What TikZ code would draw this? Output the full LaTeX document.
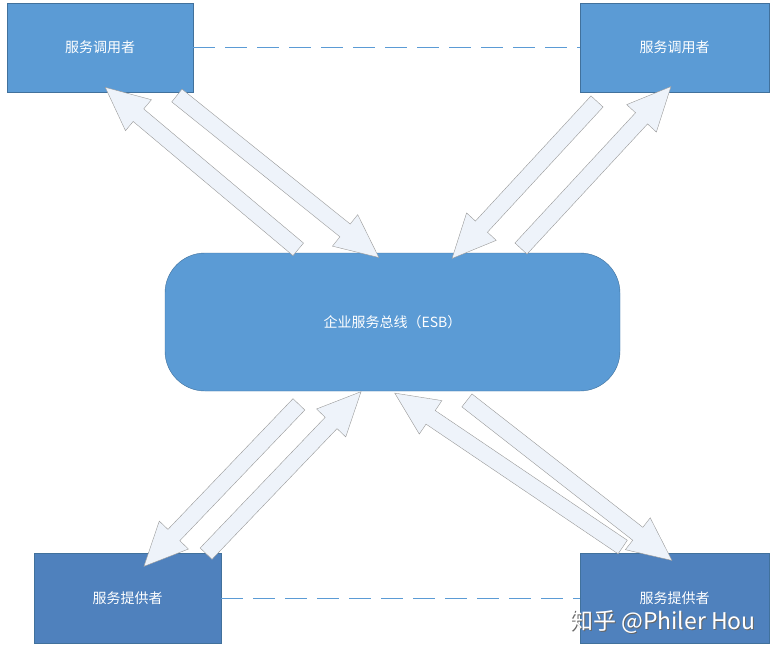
\documentclass[tikz,border=0pt]{standalone}
\usepackage{fontspec}
\newfontfamily\cjk{Noto Sans CJK SC}
\usetikzlibrary{shapes.arrows,calc}
\definecolor{boxblue}{HTML}{5B9BD5}
\definecolor{boxdark}{HTML}{4F81BD}
\definecolor{edgeblue}{HTML}{41719C}
\definecolor{arrowfill}{HTML}{EEF3FA}

\begin{document}
\begin{tikzpicture}[x=1pt,y=-1pt,
        box/.style={draw=edgeblue, fill=boxblue, text=white, font=\cjk\fontsize{14}{16}\selectfont},
        barrow/.style={single arrow, draw=gray!80, fill=arrowfill, inner sep=8pt,
            single arrow head extend=12pt, single arrow tip angle=50, minimum width=40pt},
        link/.style={boxblue, dash pattern=on 22pt off 10pt}]
        \useasboundingbox (0,0) rectangle (776,653);

        % boxes
        \node[box, minimum width=186, minimum height=89] (useA) at (100,47.5) {服务调用者};
        \node[box, minimum width=189, minimum height=89] (useB) at (674.5,47.5) {服务调用者};
        \node[box, rounded corners=40, minimum width=455, minimum height=138] (esb) at (392.5,322) {企业服务总线（ESB）};
        \node[box, fill=boxdark, minimum width=187, minimum height=90] (provA) at (127.5,598) {服务提供者};
        \node[box, fill=boxdark, minimum width=189, minimum height=90] (provB) at (674.5,598) {服务提供者};

        \draw[link] (useA) -- (useB);
        \draw[link] (provA) -- (provB);

        % arrow ends
        \coordinate (a1) at (305,255);  \coordinate (a1t) at (112,93);
        \coordinate (a2) at (170,90);   \coordinate (a2t) at (372,252);
        \coordinate (b1) at (603,95);   \coordinate (b1t) at (458,252);
        \coordinate (b2) at (515,255);  \coordinate (b2t) at (665,93);
        \coordinate (c1) at (305,398);  \coordinate (c1t) at (150,560);
        \coordinate (c2) at (200,560);  \coordinate (c2t) at (355,398);
        \coordinate (d1) at (630,552);  \coordinate (d1t) at (402,398);
        \coordinate (d2) at (460,395);  \coordinate (d2t) at (665,555);

        \foreach \s/\t in {a1/a1t,a2/a2t,b1/b1t,b2/b2t,c1/c1t,c2/c2t,d1/d1t,d2/d2t}
            \path let \p1=(\s), \p2=(\t), \n1={atan2(\y2-\y1,\x2-\x1)},
                \n2={veclen(\x2-\x1,\y2-\y1)} in
                node[barrow, minimum height=\n2, rotate=\n1] at ($(\s)!0.5!(\t)$) {};

        % watermark
        \node[text=black!60, font=\cjk\fontsize{23}{26}\selectfont] (markS) at (664,623) {知乎 @Philer Hou};
        \node[text=white, font=\cjk\fontsize{23}{26}\selectfont] (mark) at (663,622) {知乎 @Philer Hou};
\end{tikzpicture}
\end{document}
